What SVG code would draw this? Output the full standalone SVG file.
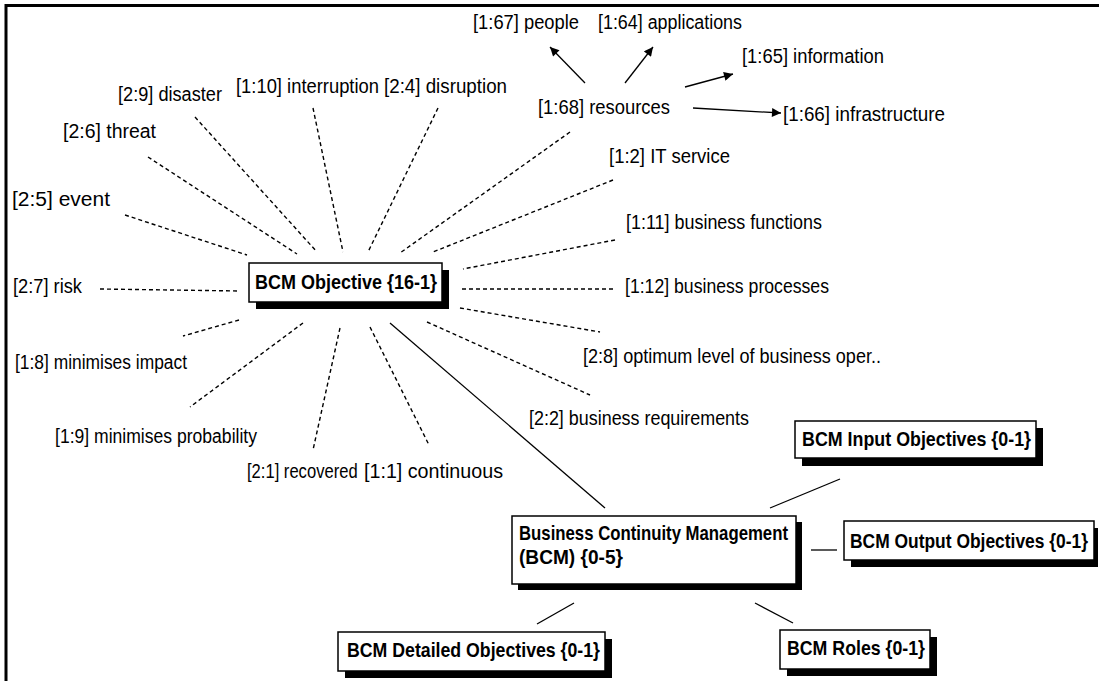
<svg xmlns="http://www.w3.org/2000/svg" width="1099" height="681" viewBox="0 0 1099 681">
  <style>
    .lbl { font-family: "Liberation Sans", Arial, sans-serif; font-size: 20px; fill: #000; }
    .ttl { font-family: "Liberation Sans", Arial, sans-serif; font-size: 21px; font-weight: bold; fill: #000; }
    .box { fill: #fff; stroke: #000; stroke-width: 1.5; }
    .shadow { fill: #000; }
    .dash { stroke: #000; stroke-width: 1.4; stroke-dasharray: 4 3; fill: none; }
    .link { stroke: #000; stroke-width: 1.3; fill: none; }
    .arrow { stroke: #000; stroke-width: 1.3; fill: none; marker-end: url(#head); }
    .frame { stroke: #000; stroke-width: 3; fill: none; }
  </style>
  <defs>
    <marker id="head" viewBox="0 0 10 10" refX="10" refY="5" markerWidth="11" markerHeight="9" markerUnits="userSpaceOnUse" orient="auto">
      <path d="M0,0 L10,5 L0,10 z" fill="#000"/>
    </marker>
  </defs>

  <rect x="0" y="0" width="1099" height="681" fill="#fff"/>
  <!-- window frame: top and left edges -->
  <path class="frame" d="M6,681 L6,5.5 L1099,5.5"/>

  <g id="connectors">
    <!-- dashed spokes around BCM Objective -->
    <line class="dash" x1="125" y1="215" x2="247" y2="255"/>
    <line class="dash" x1="148" y1="157" x2="297" y2="254"/>
    <line class="dash" x1="195" y1="117" x2="317" y2="252"/>
    <line class="dash" x1="313" y1="108" x2="343" y2="252"/>
    <line class="dash" x1="438" y1="108" x2="368" y2="252"/>
    <line class="dash" x1="570" y1="132" x2="400" y2="253"/>
    <line class="dash" x1="613" y1="180" x2="433" y2="252"/>
    <line class="dash" x1="615" y1="240" x2="463" y2="269"/>
    <line class="dash" x1="462" y1="289" x2="613" y2="289"/>
    <line class="dash" x1="460" y1="308" x2="600" y2="332"/>
    <line class="dash" x1="427" y1="322" x2="590" y2="395"/>
    <line class="dash" x1="370" y1="327" x2="429" y2="445"/>
    <line class="dash" x1="340" y1="328" x2="313" y2="450"/>
    <line class="dash" x1="303" y1="323" x2="190" y2="407"/>
    <line class="dash" x1="239" y1="320" x2="183" y2="336"/>
    <line class="dash" x1="100" y1="289" x2="240" y2="291"/>

    <!-- arrows out of resources -->
    <line class="arrow" x1="585" y1="83" x2="550" y2="47"/>
    <line class="arrow" x1="625" y1="83" x2="653" y2="47"/>
    <line class="arrow" x1="685" y1="87" x2="733" y2="74"/>
    <line class="arrow" x1="693" y1="108" x2="781" y2="113"/>

    <!-- solid links between boxes -->
    <line class="link" x1="390" y1="323" x2="605" y2="508"/>
    <line class="link" x1="770" y1="508" x2="840" y2="479"/>
    <line class="link" x1="811" y1="550" x2="837" y2="550"/>
    <line class="link" x1="574" y1="603" x2="537" y2="624"/>
    <line class="link" x1="755" y1="603" x2="793" y2="623"/>
  </g>

  <!-- plain labels -->
  <g id="n-event"><text class="lbl" x="12" y="206" textLength="98" lengthAdjust="spacingAndGlyphs">[2:5] event</text></g>
  <g id="n-threat"><text class="lbl" x="63" y="138" textLength="93" lengthAdjust="spacingAndGlyphs">[2:6] threat</text></g>
  <g id="n-disaster"><text class="lbl" x="118" y="101" textLength="104" lengthAdjust="spacingAndGlyphs">[2:9] disaster</text></g>
  <g id="n-interruption"><text class="lbl" x="236" y="93" textLength="143" lengthAdjust="spacingAndGlyphs">[1:10] interruption</text></g>
  <g id="n-disruption"><text class="lbl" x="384" y="93" textLength="123" lengthAdjust="spacingAndGlyphs">[2:4] disruption</text></g>
  <g id="n-people"><text class="lbl" x="473" y="29" textLength="106" lengthAdjust="spacingAndGlyphs">[1:67] people</text></g>
  <g id="n-applications"><text class="lbl" x="598" y="29" textLength="144" lengthAdjust="spacingAndGlyphs">[1:64] applications</text></g>
  <g id="n-information"><text class="lbl" x="742" y="63" textLength="142" lengthAdjust="spacingAndGlyphs">[1:65] information</text></g>
  <g id="n-resources"><text class="lbl" x="538" y="114" textLength="132" lengthAdjust="spacingAndGlyphs">[1:68] resources</text></g>
  <g id="n-infrastructure"><text class="lbl" x="783" y="121" textLength="162" lengthAdjust="spacingAndGlyphs">[1:66] infrastructure</text></g>
  <g id="n-it-service"><text class="lbl" x="609" y="163" textLength="121" lengthAdjust="spacingAndGlyphs">[1:2] IT service</text></g>
  <g id="n-business-functions"><text class="lbl" x="626" y="229" textLength="196" lengthAdjust="spacingAndGlyphs">[1:11] business functions</text></g>
  <g id="n-risk"><text class="lbl" x="13" y="293" textLength="69" lengthAdjust="spacingAndGlyphs">[2:7] risk</text></g>
  <g id="n-business-processes"><text class="lbl" x="625" y="293" textLength="204" lengthAdjust="spacingAndGlyphs">[1:12] business processes</text></g>
  <g id="n-minimises-impact"><text class="lbl" x="15" y="369" textLength="172" lengthAdjust="spacingAndGlyphs">[1:8] minimises impact</text></g>
  <g id="n-optimum"><text class="lbl" x="583" y="363" textLength="298" lengthAdjust="spacingAndGlyphs">[2:8] optimum level of business oper..</text></g>
  <g id="n-business-requirements"><text class="lbl" x="529" y="425" textLength="220" lengthAdjust="spacingAndGlyphs">[2:2] business requirements</text></g>
  <g id="n-minimises-probability"><text class="lbl" x="55" y="443" textLength="202" lengthAdjust="spacingAndGlyphs">[1:9] minimises probability</text></g>
  <!-- narrow label: squeezed horizontally so it stays clear of its neighbour -->
  <g id="n-recovered"><text class="lbl" transform="translate(247,478) scale(0.83,1)" x="0" y="0">[2:1] recovered</text></g>
  <g id="n-continuous"><text class="lbl" x="364" y="478" textLength="139" lengthAdjust="spacingAndGlyphs">[1:1] continuous</text></g>

  <!-- boxed nodes with drop shadows -->
  <g id="n-bcm-objective">
    <rect class="shadow" x="256" y="270" width="193" height="39"/>
    <rect class="box" x="249" y="263" width="193" height="39"/>
    <text class="ttl" x="255" y="289" textLength="182" lengthAdjust="spacingAndGlyphs">BCM Objective {16-1}</text>
  </g>
  <g id="n-bcm-input">
    <rect class="shadow" x="802" y="428" width="241" height="38"/>
    <rect class="box" x="795" y="421" width="241" height="37"/>
    <text class="ttl" x="802" y="446" textLength="229" lengthAdjust="spacingAndGlyphs">BCM Input Objectives {0-1}</text>
  </g>
  <g id="n-bcm">
    <rect class="shadow" x="518" y="522" width="284" height="68"/>
    <rect class="box" x="512" y="516" width="284" height="68"/>
    <text class="ttl" x="519" y="540" textLength="269" lengthAdjust="spacingAndGlyphs">Business Continuity Management</text>
    <text class="ttl" x="519" y="564" textLength="104" lengthAdjust="spacingAndGlyphs">(BCM) {0-5}</text>
  </g>
  <g id="n-bcm-output">
    <rect class="shadow" x="851" y="528" width="247" height="39"/>
    <rect class="box" x="844" y="521" width="250" height="39"/>
    <text class="ttl" transform="translate(850,548) scale(0.83,1)" x="0" y="0">BCM Output Objectives {0-1}</text>
  </g>
  <g id="n-bcm-detailed">
    <rect class="shadow" x="345" y="639" width="267" height="39"/>
    <rect class="box" x="338" y="632" width="267" height="39"/>
    <text class="ttl" x="347" y="657" textLength="253" lengthAdjust="spacingAndGlyphs">BCM Detailed Objectives {0-1}</text>
  </g>
  <g id="n-bcm-roles">
    <rect class="shadow" x="787" y="637" width="150" height="39"/>
    <rect class="box" x="780" y="630" width="150" height="39"/>
    <text class="ttl" x="787" y="655" textLength="138" lengthAdjust="spacingAndGlyphs">BCM Roles {0-1}</text>
  </g>
</svg>
